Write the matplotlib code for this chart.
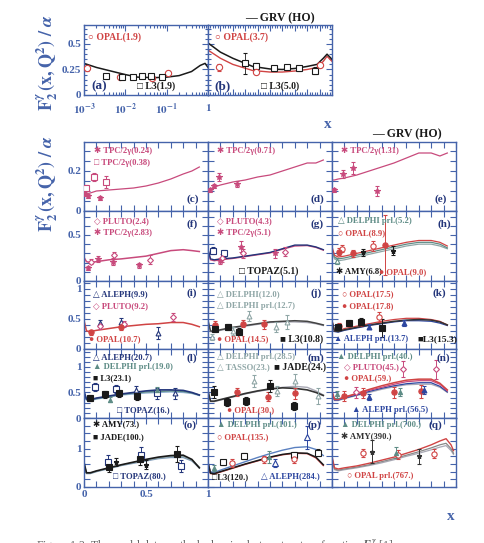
import matplotlib
matplotlib.use('Agg')
import matplotlib.pyplot as plt
from matplotlib.ticker import MultipleLocator, FixedLocator, FuncFormatter, LogLocator, NullFormatter

# ---------------- data ----------------
# panel (a): log x
A_CURVE_X = [0.001, 0.002, 0.005, 0.01, 0.02, 0.05, 0.1, 0.2, 0.4, 0.65, 0.85, 1.0]
A_CURVE_Y = [0.31, 0.27, 0.23, 0.20, 0.175, 0.17, 0.175, 0.19, 0.23, 0.29, 0.31, 0.27]
A_OPAL = ([0.0012, 0.0074, 0.044, 0.11], [0.26, 0.175, 0.17, 0.22], [0.02, 0.01, 0.01, 0.02])
A_L3 = ([0.0035, 0.0081, 0.0155, 0.026, 0.041, 0.075], [0.19, 0.175, 0.175, 0.19, 0.19, 0.18],
        [0.01, 0.01, 0.01, 0.01, 0.01, 0.01])
# panel (b): linear x
B_CURVE_X = [0.0, 0.1, 0.2, 0.36, 0.5, 0.6, 0.7, 0.8, 0.88, 0.93, 0.96, 1.0]
B_BLACK = [0.51, 0.42, 0.36, 0.28, 0.255, 0.25, 0.26, 0.28, 0.30, 0.36, 0.40, 0.35]
B_RED = [0.44, 0.36, 0.30, 0.24, 0.225, 0.225, 0.235, 0.25, 0.27, 0.33, 0.38, 0.33]
B_L3 = ([0.3, 0.39, 0.53, 0.64, 0.73, 0.86], [0.31, 0.28, 0.26, 0.27, 0.26, 0.24], [0.1, 0.03, 0.02, 0.02, 0.02, 0.03])
B_OPAL = ([0.09, 0.39, 0.9], [0.27, 0.23, 0.29], [0.03, 0.02, 0.02])

# grid panels: GRV curves sampled at CX
CX = [0.003, 0.02, 0.05, 0.1, 0.2, 0.3, 0.4, 0.5, 0.6, 0.7, 0.8, 0.87, 0.93]
C_GRV = [0.085, 0.085, 0.09, 0.1, 0.105, 0.11, 0.115, 0.125, 0.14, 0.16, 0.185, 0.2, 0.22]
D_GRV = [0.1, 0.11, 0.12, 0.13, 0.145, 0.155, 0.17, 0.18, 0.2, 0.22, 0.24, 0.24, 0.255]
E_GRV = [0.155, 0.155, 0.16, 0.165, 0.18, 0.2, 0.22, 0.24, 0.265, 0.29, 0.29, 0.275, 0.29]
F_GRV = [0.25, 0.21, 0.2, 0.21, 0.23, 0.24, 0.255, 0.27, 0.3, 0.33, 0.34, 0.33, 0.32]
G_GRV1 = [0.33, 0.24, 0.23, 0.24, 0.25, 0.27, 0.29, 0.31, 0.35, 0.39, 0.39, 0.37, 0.34]
G_GRV2 = [0.32, 0.23, 0.22, 0.23, 0.245, 0.265, 0.285, 0.305, 0.345, 0.38, 0.385, 0.365, 0.335]
H_GRV1 = [0.36, 0.28, 0.26, 0.27, 0.3, 0.33, 0.36, 0.39, 0.42, 0.44, 0.44, 0.42, 0.38]
H_GRV2 = [0.33, 0.26, 0.24, 0.25, 0.28, 0.31, 0.34, 0.37, 0.4, 0.42, 0.42, 0.4, 0.36]
H_GRV3 = [0.31, 0.24, 0.22, 0.23, 0.26, 0.29, 0.32, 0.35, 0.38, 0.40, 0.40, 0.38, 0.35]
I_GRV = [0.45, 0.3, 0.29, 0.31, 0.34, 0.37, 0.39, 0.41, 0.42, 0.44, 0.44, 0.41, 0.37]
J_GRV1 = [0.45, 0.3, 0.29, 0.32, 0.36, 0.39, 0.42, 0.45, 0.46, 0.47, 0.46, 0.43, 0.4]
J_GRV2 = [0.42, 0.29, 0.28, 0.31, 0.35, 0.38, 0.41, 0.44, 0.45, 0.45, 0.44, 0.42, 0.39]
K_GRV1 = [0.45, 0.3, 0.3, 0.34, 0.38, 0.42, 0.46, 0.49, 0.51, 0.51, 0.49, 0.46, 0.4]
K_GRV2 = [0.44, 0.3, 0.29, 0.32, 0.36, 0.4, 0.43, 0.46, 0.48, 0.49, 0.48, 0.45, 0.4]
K_GRV3 = [0.42, 0.29, 0.28, 0.31, 0.35, 0.39, 0.42, 0.45, 0.47, 0.47, 0.46, 0.43, 0.39]
L_GRV1 = [0.5, 0.37, 0.36, 0.39, 0.43, 0.47, 0.5, 0.53, 0.55, 0.55, 0.54, 0.5, 0.45]
L_GRV2 = [0.48, 0.36, 0.35, 0.38, 0.42, 0.46, 0.49, 0.51, 0.52, 0.53, 0.52, 0.49, 0.45]
L_GRV3 = [0.46, 0.35, 0.34, 0.37, 0.41, 0.45, 0.47, 0.49, 0.5, 0.51, 0.5, 0.48, 0.44]
M_GRV1 = [0.5, 0.33, 0.33, 0.36, 0.42, 0.48, 0.53, 0.57, 0.59, 0.58, 0.55, 0.5, 0.44]
M_GRV2 = [0.48, 0.32, 0.32, 0.35, 0.41, 0.47, 0.52, 0.56, 0.6, 0.62, 0.6, 0.53, 0.45]
N_GRV1 = [0.5, 0.37, 0.37, 0.41, 0.48, 0.56, 0.63, 0.69, 0.74, 0.76, 0.76, 0.68, 0.55]
N_GRV2 = [0.48, 0.36, 0.36, 0.4, 0.47, 0.54, 0.6, 0.66, 0.71, 0.73, 0.73, 0.66, 0.53]
N_GRV3 = [0.46, 0.35, 0.35, 0.39, 0.45, 0.52, 0.58, 0.63, 0.67, 0.69, 0.69, 0.62, 0.51]
N_GRV4 = [0.44, 0.34, 0.34, 0.38, 0.44, 0.5, 0.56, 0.61, 0.65, 0.66, 0.66, 0.6, 0.5]
O_GRV1 = [0.6, 0.37, 0.37, 0.42, 0.5, 0.58, 0.65, 0.72, 0.78, 0.82, 0.83, 0.72, 0.5]
O_GRV2 = [0.58, 0.36, 0.36, 0.41, 0.49, 0.57, 0.64, 0.7, 0.76, 0.8, 0.8, 0.7, 0.52]
O_GRV3 = [0.56, 0.35, 0.35, 0.4, 0.48, 0.56, 0.62, 0.68, 0.74, 0.77, 0.77, 0.68, 0.5]
P_GRV1 = [0.6, 0.4, 0.38, 0.44, 0.55, 0.66, 0.77, 0.87, 0.96, 1.03, 1.05, 0.98, 0.82]
P_GRV2 = [0.6, 0.36, 0.35, 0.4, 0.5, 0.6, 0.69, 0.78, 0.85, 0.89, 0.88, 0.78, 0.58]
P_GRV3 = [0.58, 0.35, 0.34, 0.39, 0.49, 0.59, 0.68, 0.77, 0.84, 0.88, 0.87, 0.76, 0.56]
QX = [0.003, 0.02, 0.05, 0.1, 0.2, 0.3, 0.4, 0.5, 0.6, 0.7, 0.8, 0.87, 0.92, 0.96, 0.98]
Q_GRV1 = [0.76, 0.5, 0.47, 0.5, 0.55, 0.62, 0.7, 0.78, 0.88, 0.98, 1.1, 1.2, 1.26, 1.1, 0.95]
Q_GRV2 = [0.72, 0.47, 0.44, 0.47, 0.52, 0.58, 0.66, 0.74, 0.83, 0.92, 1.02, 1.1, 1.14, 1.0, 0.88]
Q_GRV3 = [0.7, 0.45, 0.42, 0.45, 0.5, 0.56, 0.63, 0.71, 0.8, 0.88, 0.97, 1.04, 1.08, 0.95, 0.85]

# measurements (x, F2/alpha, error)
C_TPC024 = ([0.01, 0.03, 0.13], [0.085, 0.075, 0.065], [0.01, 0.01, 0.01])
C_TPC038 = ([0.02, 0.08, 0.18], [0.115, 0.17, 0.145], [0.015, 0.02, 0.03])
D_TPC071 = ([0.02, 0.05, 0.09, 0.23], [0.105, 0.125, 0.17, 0.135], [0.01, 0.01, 0.02, 0.015])
E_TPC131 = ([0.02, 0.09, 0.17, 0.36], [0.105, 0.185, 0.215, 0.10], [0.01, 0.02, 0.03, 0.025])
F_PLUTO = ([0.06, 0.24, 0.53], [0.21, 0.28, 0.23], [0.03, 0.04, 0.05])
F_TPC = ([0.03, 0.11, 0.23, 0.44], [0.14, 0.24, 0.21, 0.17], [0.02, 0.03, 0.04, 0.03])
G_TOPAZ = ([0.04, 0.13], [0.33, 0.30], [0.04, 0.04])
G_PLUTO = ([0.11, 0.28, 0.62], [0.25, 0.30, 0.32], [0.04, 0.05, 0.05])
G_TPC = ([0.1, 0.27, 0.54], [0.22, 0.37, 0.30], [0.03, 0.06, 0.05])
H_DELPHI = ([0.04], [0.22], [0.03])
H_OPAL89 = ([0.08, 0.33], [0.35, 0.38], [0.04, 0.05])
H_OPAL90 = ([0.06, 0.17, 0.43], [0.32, 0.30, 0.39], [0.04, 0.04, 0.33])
H_AMY = ([0.25, 0.49], [0.31, 0.33], [0.04, 0.05])
I_ALEPH = ([0.13, 0.3, 0.6], [0.43, 0.45, 0.26], [0.05, 0.06, 0.1])
I_PLUTO = ([0.13, 0.32, 0.72], [0.38, 0.42, 0.53], [0.04, 0.05, 0.06])
I_OPAL = ([0.06, 0.3], [0.28, 0.37], [0.04, 0.05])
J_OPAL = ([0.06, 0.28, 0.45], [0.40, 0.42, 0.41], [0.06, 0.06, 0.08])
J_L3 = ([0.06, 0.16, 0.25], [0.33, 0.37, 0.29], [0.05, 0.05, 0.06])
J_DELPHI = ([0.03, 0.2, 0.33, 0.55], [0.2, 0.3, 0.55, 0.37], [0.05, 0.06, 0.08, 0.08])
J_DELPHIP = ([0.64], [0.45], [0.12])
K_L3 = ([0.05, 0.14, 0.23, 0.4], [0.37, 0.43, 0.45, 0.35], [0.05, 0.05, 0.06, 0.15])
K_OPAL175 = ([0.38], [0.53], [0.08])
K_OPAL178 = ([0.06, 0.23], [0.38, 0.44], [0.05, 0.06])
K_ALEPH = ([0.3, 0.58], [0.37, 0.43], [0.04, 0.05])
L_L3 = ([0.05, 0.17, 0.28, 0.43], [0.39, 0.46, 0.48, 0.44], [0.06, 0.06, 0.07, 0.08])
L_TOPAZ = ([0.09, 0.26, 0.59], [0.6, 0.57, 0.48], [0.08, 0.08, 0.1])
L_ALEPH = ([0.42, 0.73], [0.55, 0.48], [0.08, 0.1])
L_DELPHI = ([0.21, 0.59], [0.36, 0.54], [0.05, 0.06])
M_JADE = ([0.05, 0.15, 0.31, 0.5, 0.69], [0.51, 0.31, 0.34, 0.62, 0.24], [0.12, 0.08, 0.08, 0.12, 0.08])
M_OPAL = ([0.23, 0.48, 0.7], [0.51, 0.42, 0.48], [0.07, 0.08, 0.1])
M_TASSO = ([0.37, 0.56, 0.89], [0.72, 0.53, 0.43], [0.12, 0.1, 0.15])
M_DELPHI = ([0.7], [0.72], [0.15])
N_PLUTO = ([0.19, 0.57, 0.84], [0.5, 0.96, 0.95], [0.1, 0.15, 0.18])
N_OPAL = ([0.1, 0.25, 0.5, 0.72], [0.43, 0.49, 0.5, 0.52], [0.1, 0.1, 0.1, 0.12])
N_ALEPH = ([0.3, 0.74], [0.41, 0.55], [0.06, 0.08])
N_DELPHI = ([0.04, 0.55], [0.46, 0.51], [0.06, 0.08])
O_JADE = ([0.2, 0.45, 0.75], [0.53, 0.72, 0.86], [0.15, 0.15, 0.2])
O_TOPAZ = ([0.19, 0.46, 0.78], [0.66, 0.84, 0.55], [0.18, 0.2, 0.15])
O_AMY = ([0.26, 0.5], [0.66, 0.58], [0.1, 0.12])
P_L3 = ([0.12, 0.29, 0.69, 0.89], [0.64, 0.82, 0.84, 0.9], [0.06, 0.08, 0.08, 0.1])
P_ALEPH = ([0.54, 0.8], [0.63, 1.3], [0.1, 0.3])
P_OPAL = ([0.19, 0.45, 0.69], [0.62, 0.72, 0.74], [0.1, 0.1, 0.12])
P_DELPHI = ([0.05, 0.49], [0.5, 0.78], [0.08, 0.15])
Q_OPAL = ([0.25, 0.53, 0.82], [0.89, 0.84, 0.87], [0.1, 0.12, 0.12])
Q_DELPHI = ([0.52], [0.9], [0.15])
Q_AMY = ([0.32, 0.7], [0.92, 0.8], [0.3, 0.2])

# ---------------- style ----------------
plt.rcParams['font.family'] = ['Liberation Serif', 'DejaVu Sans']
plt.rcParams['font.weight'] = 'bold'
plt.rcParams['mathtext.fontset'] = 'stix'

AXC = '#4563aa'
RED = '#d04444'
PINK = '#c84a7c'
BLK = '#1a1a1a'
BLUE = '#2c46a0'
NAVY = '#23357a'
TEAL = '#5e8c86'
GRAY = '#8fa6a6'
LGRAY = '#a9a9b5'

W, H = 484, 543
fig = plt.figure(figsize=(W / 100, H / 100), dpi=100)


def rect(x0, y0, x1, y1):
    return [x0 / W, 1 - y1 / H, (x1 - x0) / W, (y1 - y0) / H]


def style(ax):
    for s in ax.spines.values():
        s.set_color(AXC)
        s.set_linewidth(1.0)
    ax.tick_params(which='both', direction='in', top=True, right=True, color=AXC,
                   labelcolor=AXC, width=0.8, labelsize=8, pad=2)
    ax.tick_params(which='major', length=4)
    ax.tick_params(which='minor', length=2)


def pts(ax, s, marker, color, filled=False, ms=3.4, elw=0.7):
    x, y, e = s
    ax.errorbar(x, y, yerr=e, fmt=marker, color=color, ms=ms, mew=0.8,
                mfc=color if filled else 'white', mec=color, ecolor=color,
                elinewidth=elw, capsize=1.5, capthick=0.6, zorder=4)


def lab(ax, fx, fy, text, color, size=6.2):
    ax.text(fx, fy, text, transform=ax.transAxes, color=color, fontsize=size,
            ha='left', va='center', fontweight='bold', zorder=6)


def plabel(ax, fx, fy, text, size=8):
    ax.text(fx, fy, text, transform=ax.transAxes, color=NAVY, fontsize=size,
            ha='left', va='center', fontweight='bold', zorder=6)


# ---------------- top panels ----------------
axa = fig.add_axes(rect(84, 25, 208, 95))
axb = fig.add_axes(rect(208, 25, 332, 95))
for ax in (axa, axb):
    style(ax)
    ax.set_ylim(0, 0.686)
    ax.yaxis.set_major_locator(FixedLocator([0, 0.25, 0.5]))
    ax.yaxis.set_minor_locator(MultipleLocator(0.05))
axa.set_xscale('log')
axa.set_xlim(1e-3, 1)
axa.xaxis.set_major_locator(FixedLocator([1e-3, 1e-2, 1e-1, 1]))
axa.xaxis.set_minor_locator(LogLocator(base=10, subs=range(2, 10)))
axa.xaxis.set_minor_formatter(NullFormatter())
axa.xaxis.set_major_formatter(FuncFormatter(
    lambda v, p: {1e-3: r'$\mathbf{10^{-3}}$', 1e-2: r'$\mathbf{10^{-2}}$',
                  1e-1: r'$\mathbf{10^{-1}}$', 1.0: r'$\mathbf{1}$'}.get(round(v, 6), '')))
axa.tick_params(axis='x', pad=5)
axa.yaxis.set_major_formatter(FuncFormatter(lambda v, p: {0: '0', 0.25: '0.25', 0.5: '0.5'}.get(round(v, 2), '')))
axb.set_xlim(0, 1)
axb.xaxis.set_major_locator(MultipleLocator(0.1))
axb.xaxis.set_minor_locator(MultipleLocator(0.02))
axb.tick_params(labelbottom=False, labelleft=False)

axa.plot(A_CURVE_X, A_CURVE_Y, color=BLK, lw=1.1)
pts(axa, A_OPAL, 'o', RED, ms=4.5, elw=0.5)
pts(axa, A_L3, 's', BLK, ms=4.5, elw=0.5)
lab(axa, 0.03, 0.83, '○ OPAL(1.9)', RED, 7)
lab(axa, 0.43, 0.12, '□ L3(1.9)', BLK, 7)
plabel(axa, 0.06, 0.13, '(a)', 9.5)

axb.plot(B_CURVE_X, B_RED, color=RED, lw=1.0)
axb.plot(B_CURVE_X, B_BLACK, color=BLK, lw=1.1)
pts(axb, B_L3, 's', BLK, ms=4.5, elw=0.6)
pts(axb, B_OPAL, 'o', RED, ms=4.5, elw=0.5)
lab(axb, 0.06, 0.83, '○ OPAL(3.7)', RED, 7)
lab(axb, 0.43, 0.12, '□ L3(5.0)', BLK, 7)
plabel(axb, 0.05, 0.13, '(b)', 9.5)

# ---------------- grid ----------------
COLS = [84, 208, 332, 456]
ROWS = [142, 211, 281, 349, 418, 487]
YLIM = [0.345, 0.76, 1.13, 1.35, 1.8]
YMAJ = [0.05, 0.1, 0.1, 0.1, 0.2]
YLAB = [{0.0: '0', 0.2: '0.2'}, {0.0: '0', 0.5: '0.5'}, {0.0: '0', 0.5: '0.5', 1.0: '1'},
        {0.0: '0', 0.5: '0.5', 1.0: '1'}, {0.0: '0', 1.0: '1'}]
axes = {}
names = 'cdefghijklmnopq'
k = 0
for r in range(5):
    for c in range(3):
        ax = fig.add_axes(rect(COLS[c], ROWS[r], COLS[c + 1], ROWS[r + 1]))
        style(ax)
        ax.set_xlim(0, 1)
        ax.set_ylim(0, YLIM[r])
        ax.xaxis.set_major_locator(MultipleLocator(0.1))
        ax.yaxis.set_major_locator(MultipleLocator(YMAJ[r]))
        d = YLAB[r]
        ax.yaxis.set_major_formatter(FuncFormatter(lambda v, p, d=d: d.get(round(v, 2), '')))
        ax.xaxis.set_major_formatter(FuncFormatter(
            lambda v, p: {0.0: '0', 0.5: '0.5', 1.0: '1'}.get(round(v, 2), '')))
        ax.tick_params(labelleft=(c == 0), labelbottom=(r == 4 and c == 0))
        axes[names[k]] = ax
        k += 1

# (c)
ax = axes['c']
ax.plot(CX, C_GRV, color=PINK, lw=0.9)
pts(ax, C_TPC024, '*', PINK, True, ms=4)
pts(ax, C_TPC038, 's', PINK, ms=4)
lab(ax, 0.08, 0.88, '✱ TPC/2γ(0.24)', PINK)
lab(ax, 0.08, 0.70, '□ TPC/2γ(0.38)', PINK)
plabel(ax, 0.83, 0.17, '(c)')
# (d)
ax = axes['d']
ax.plot(CX, D_GRV, color=PINK, lw=0.9)
pts(ax, D_TPC071, '*', PINK, True, ms=4)
lab(ax, 0.07, 0.88, '✱ TPC/2γ(0.71)', PINK)
plabel(ax, 0.83, 0.17, '(d)')
# (e)
ax = axes['e']
ax.plot(CX, E_GRV, color=PINK, lw=0.9)
pts(ax, E_TPC131, '*', PINK, True, ms=4)
lab(ax, 0.07, 0.88, '✱ TPC/2γ(1.31)', PINK)
plabel(ax, 0.83, 0.17, '(e)')
# (f)
ax = axes['f']
ax.plot(CX, F_GRV, color=PINK, lw=1.1)
pts(ax, F_PLUTO, 'D', PINK, ms=3)
pts(ax, F_TPC, '*', PINK, True, ms=4)
lab(ax, 0.08, 0.86, '◇ PLUTO(2.4)', PINK)
lab(ax, 0.08, 0.69, '✱ TPC/2γ(2.83)', PINK)
plabel(ax, 0.83, 0.81, '(f)')
# (g)
ax = axes['g']
ax.plot(CX, G_GRV2, color=PINK, lw=1.0)
ax.plot(CX, G_GRV1, color=NAVY, lw=1.0)
pts(ax, G_TOPAZ, 's', NAVY, ms=4)
pts(ax, G_PLUTO, 'D', PINK, ms=3)
pts(ax, G_TPC, '*', PINK, True, ms=4)
lab(ax, 0.07, 0.86, '◇ PLUTO(4.3)', PINK)
lab(ax, 0.07, 0.69, '✱ TPC/2γ(5.1)', PINK)
lab(ax, 0.25, 0.14, '□ TOPAZ(5.1)', BLK, 7)
plabel(ax, 0.83, 0.81, '(g)')
# (h)
ax = axes['h']
ax.plot(CX, H_GRV3, color=GRAY, lw=0.9)
ax.plot(CX, H_GRV2, color=TEAL, lw=0.9)
ax.plot(CX, H_GRV1, color=RED, lw=0.9)
pts(ax, H_DELPHI, '^', TEAL, ms=3.5)
pts(ax, H_OPAL89, 'o', RED, ms=3.8)
pts(ax, H_OPAL90, 'o', RED, True, ms=3.8)
pts(ax, H_AMY, '*', BLK, True, ms=3.5)
lab(ax, 0.05, 0.86, '△ DELPHI prl.(5.2)', TEAL)
lab(ax, 0.05, 0.69, '○ OPAL(8.9)', RED)
lab(ax, 0.03, 0.13, '✱ AMY(6.8)', BLK)
lab(ax, 0.38, 0.13, '● OPAL(9.0)', RED)
plabel(ax, 0.85, 0.81, '(h)')
# (i)
ax = axes['i']
ax.plot(CX, I_GRV, color=RED, lw=1.1)
pts(ax, I_ALEPH, '^', NAVY, ms=3.5)
pts(ax, I_PLUTO, 'D', PINK, ms=3)
pts(ax, I_OPAL, 'o', RED, True, ms=3.8)
lab(ax, 0.07, 0.81, '△ ALEPH(9.9)', NAVY)
lab(ax, 0.07, 0.63, '◇ PLUTO(9.2)', PINK)
lab(ax, 0.04, 0.14, '● OPAL(10.7)', RED)
plabel(ax, 0.83, 0.82, '(i)')
# (j)
ax = axes['j']
ax.plot(CX, J_GRV2, color=LGRAY, lw=1.0)
ax.plot(CX, J_GRV1, color='#444444', lw=1.1)
pts(ax, J_DELPHI, '^', GRAY, ms=3.5)
pts(ax, J_DELPHIP, '^', GRAY, ms=3.5)
pts(ax, J_OPAL, 'o', RED, True, ms=3.8)
pts(ax, J_L3, 's', BLK, True, ms=3.8)
lab(ax, 0.07, 0.81, '△ DELPHI(12.0)', GRAY)
lab(ax, 0.07, 0.63, '△ DELPHI prl.(12.7)', GRAY)
lab(ax, 0.07, 0.14, '● OPAL(14.5)', RED)
lab(ax, 0.58, 0.14, '■ L3(10.8)', BLK, 7)
plabel(ax, 0.83, 0.82, '(j)')
# (k)
ax = axes['k']
ax.plot(CX, K_GRV3, color=BLUE, lw=0.9)
ax.plot(CX, K_GRV1, color=RED, lw=0.9)
ax.plot(CX, K_GRV2, color='#333333', lw=1.1)
pts(ax, K_OPAL175, 'o', RED, ms=3.8)
pts(ax, K_OPAL178, 'o', RED, True, ms=3.8)
pts(ax, K_ALEPH, '^', BLUE, True, ms=3.5)
pts(ax, K_L3, 's', BLK, True, ms=3.8)
lab(ax, 0.08, 0.81, '○ OPAL(17.5)', RED)
lab(ax, 0.08, 0.63, '● OPAL(17.8)', RED)
lab(ax, 0.02, 0.15, '▲ ALEPH prl.(13.7)', BLUE, 6)
lab(ax, 0.69, 0.15, '■L3(15.3)', BLK, 6.8)
plabel(ax, 0.81, 0.82, '(k)')
# (l)
ax = axes['l']
ax.plot(CX, L_GRV3, color='#8fb0d0', lw=1.0)
ax.plot(CX, L_GRV2, color=TEAL, lw=1.0)
ax.plot(CX, L_GRV1, color=NAVY, lw=1.2)
pts(ax, L_TOPAZ, 's', NAVY, ms=3.8)
pts(ax, L_ALEPH, '^', NAVY, ms=3.5)
pts(ax, L_DELPHI, '^', TEAL, True, ms=3)
pts(ax, L_L3, 's', BLK, True, ms=3.8)
lab(ax, 0.07, 0.88, '△ ALEPH(20.7)', NAVY)
lab(ax, 0.07, 0.74, '▲ DELPHI prl.(19.0)', TEAL)
lab(ax, 0.07, 0.58, '■ L3(23.1)', BLK)
lab(ax, 0.27, 0.12, '□ TOPAZ(16.)', NAVY)
plabel(ax, 0.83, 0.86, '(l)')
# (m)
ax = axes['m']
ax.plot(CX, M_GRV2, color=LGRAY, lw=1.0)
ax.plot(CX, M_GRV1, color='#333333', lw=1.2)
pts(ax, M_TASSO, '^', GRAY, ms=3.5)
pts(ax, M_DELPHI, '^', GRAY, ms=3.5)
pts(ax, M_OPAL, 'o', RED, True, ms=3.8)
pts(ax, M_JADE, 's', BLK, True, ms=3.8)
lab(ax, 0.07, 0.88, '△ DELPHI prl.(28.5)', GRAY)
lab(ax, 0.07, 0.74, '△ TASSO(23.)', GRAY)
lab(ax, 0.53, 0.74, '■ JADE(24.)', BLK, 7)
lab(ax, 0.15, 0.12, '● OPAL(30.)', RED)
plabel(ax, 0.80, 0.86, '(m)')
# (n)
ax = axes['n']
ax.plot(CX, N_GRV4, color=LGRAY, lw=0.9)
ax.plot(CX, N_GRV3, color=BLUE, lw=0.9)
ax.plot(CX, N_GRV2, color=PINK, lw=0.9)
ax.plot(CX, N_GRV1, color=RED, lw=1.1)
pts(ax, N_PLUTO, 'D', PINK, ms=3)
pts(ax, N_OPAL, 'o', RED, True, ms=3.8)
pts(ax, N_ALEPH, '^', BLUE, True, ms=3.5)
pts(ax, N_DELPHI, '^', TEAL, True, ms=3)
lab(ax, 0.04, 0.88, '▲ DELPHI prl.(40.)', TEAL)
lab(ax, 0.10, 0.74, '◇ PLUTO(45.)', PINK)
lab(ax, 0.10, 0.58, '● OPAL(59.)', RED)
lab(ax, 0.16, 0.12, '▲ ALEPH prl.(56.5)', BLUE)
plabel(ax, 0.84, 0.86, '(n)')
# (o)
ax = axes['o']
ax.plot(CX, O_GRV3, color='#7f9ab8', lw=1.0)
ax.plot(CX, O_GRV2, color=GRAY, lw=1.0)
ax.plot(CX, O_GRV1, color=BLK, lw=1.2)
pts(ax, O_TOPAZ, 's', NAVY, ms=3.8)
pts(ax, O_AMY, '*', BLK, True, ms=3.5)
pts(ax, O_JADE, 's', BLK, True, ms=3.8)
lab(ax, 0.07, 0.90, '✱ AMY(73.)', BLK)
lab(ax, 0.07, 0.72, '■ JADE(100.)', BLK)
lab(ax, 0.23, 0.16, '□ TOPAZ(80.)', NAVY)
plabel(ax, 0.80, 0.90, '(o)')
# (p)
ax = axes['p']
ax.plot(CX, P_GRV1, color='#5a80c0', lw=1.0)
ax.plot(CX, P_GRV3, color=RED, lw=1.0)
ax.plot(CX, P_GRV2, color=BLK, lw=1.1)
pts(ax, P_L3, 's', BLK, ms=3.8)
pts(ax, P_ALEPH, '^', BLUE, ms=3.8)
pts(ax, P_OPAL, 'o', RED, ms=3.8)
pts(ax, P_DELPHI, '^', TEAL, True, ms=3)
lab(ax, 0.07, 0.90, '▲ DELPHI prl.(101.)', TEAL)
lab(ax, 0.07, 0.72, '○ OPAL(135.)', RED)
lab(ax, 0.03, 0.14, '□L3(120.)', BLK)
lab(ax, 0.43, 0.16, '△ ALEPH(284.)', BLUE)
plabel(ax, 0.80, 0.90, '(p)')
# (q)
ax = axes['q']
ax.plot(QX, Q_GRV3, color=LGRAY, lw=0.9)
ax.plot(QX, Q_GRV2, color='#888888', lw=0.9)
ax.plot(QX, Q_GRV1, color=RED, lw=1.0)
pts(ax, Q_OPAL, 'o', RED, ms=3.8)
pts(ax, Q_DELPHI, '^', TEAL, True, ms=3)
pts(ax, Q_AMY, '*', '#333333', True, ms=3.5)
lab(ax, 0.07, 0.90, '▲ DELPHI prl.(700.)', TEAL)
lab(ax, 0.07, 0.72, '✱ AMY(390.)', '#333333')
lab(ax, 0.12, 0.16, '○ OPAL prl.(767.)', RED)
plabel(ax, 0.78, 0.90, '(q)')

# ---------------- labels ----------------
ylab = r'$\mathbf{F}_{\mathbf{2}}^{\gamma}\,\mathbf{(x,Q^2)\ /\ }\alpha$'
fig.text(47 / W, 1 - 62 / H, ylab, rotation=90, color=AXC, fontsize=13, ha='center', va='center')
fig.text(47 / W, 1 - 183 / H, ylab, rotation=90, color=AXC, fontsize=13, ha='center', va='center')
fig.text(328 / W, 1 - 124 / H, 'x', color=AXC, fontsize=11, fontweight='bold', ha='center', va='center')
fig.text(451 / W, 1 - 516 / H, 'x', color=AXC, fontsize=11, fontweight='bold', ha='center', va='center')
fig.text(245 / W, 1 - 18 / H, '— GRV (HO)', color=BLK, fontsize=8.5, fontweight='bold', ha='left', va='center')
fig.text(372 / W, 1 - 134 / H, '— GRV (HO)', color=BLK, fontsize=8.5, fontweight='bold', ha='left', va='center')
fig.text(36 / W, 1 - 538 / H,
         r'Figure 1.2: The world data on the hadronic photon structure function $F_2^\gamma$ [1].',
         color='#666666', fontsize=8.5, fontweight='normal', ha='left', va='top')

fig.savefig('out.png', dpi=100)
